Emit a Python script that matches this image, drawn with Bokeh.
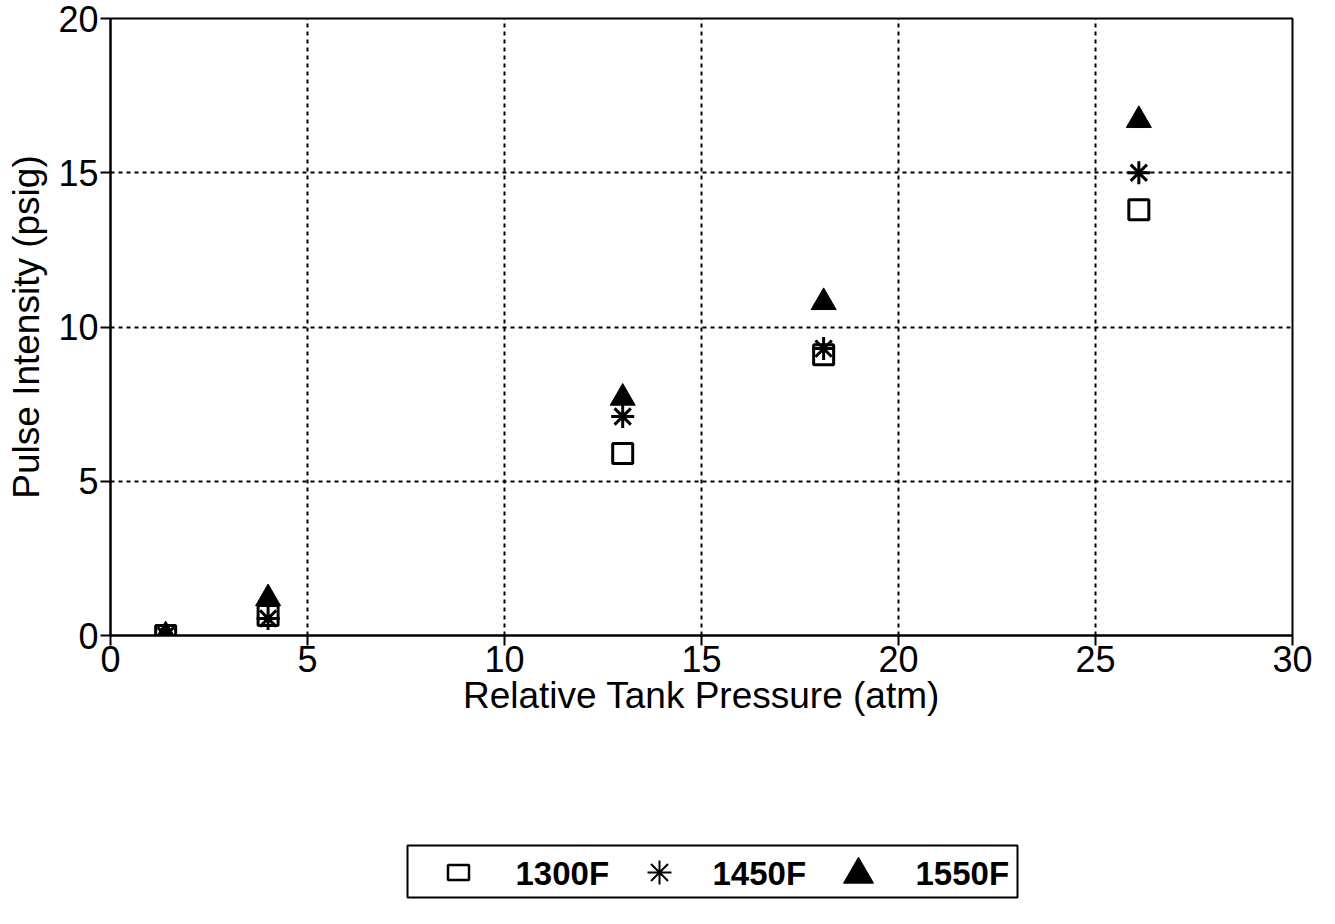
from bokeh.plotting import figure
from bokeh.models import FixedTicker, Range1d
from bokeh.layouts import column
from bokeh.core.properties import value
from bokeh.embed import file_html
from bokeh.resources import INLINE

pressure = [1.4, 4.0, 13.0, 18.1, 26.1]
s1300 = [0.0, 0.65, 5.9, 9.1, 13.8]
s1450 = [0.0, 0.55, 7.1, 9.3, 15.0]
s1550 = [0.0, 1.2, 7.7, 10.8, 16.7]
x_ticks = [0, 5, 10, 15, 20, 25, 30]
y_ticks = [0, 5, 10, 15, 20]
series_names = ["1300F", "1450F", "1550F"]

FONT = "Liberation Sans"
W = 1319
H_MAIN = 742
H_LEG = 166
BL, BR = 110, 27

p = figure(width=W, height=H_MAIN, output_backend="svg", toolbar_location=None,
           x_range=Range1d(0, 30), y_range=Range1d(0, 20),
           min_border_left=BL, min_border_right=BR, min_border_top=18, min_border_bottom=107)
p.outline_line_color = "black"
p.outline_line_width = 2
p.background_fill_color = "white"
p.border_fill_color = "white"

for ax in (p.xaxis[0], p.yaxis[0]):
    ax.axis_line_color = "black"
    ax.axis_line_width = 2
    ax.major_tick_line_width = 2
    ax.major_tick_line_color = "black"
    ax.major_tick_out = 10
    ax.major_tick_in = 0
    ax.minor_tick_line_color = None
    ax.major_label_text_font = FONT
    ax.major_label_text_font_size = "36px"
    ax.major_label_text_color = "black"
    ax.axis_label_text_font = FONT
    ax.axis_label_text_font_size = "37px"
    ax.axis_label_text_font_style = "normal"
    ax.axis_label_text_color = "black"

p.xaxis.ticker = FixedTicker(ticks=x_ticks)
p.yaxis.ticker = FixedTicker(ticks=y_ticks)
p.xaxis.axis_label = "Relative Tank Pressure (atm)"
p.yaxis.axis_label = "Pulse Intensity (psig)"
p.xaxis.major_label_standoff = 0
p.xaxis.axis_label_standoff = 0
p.yaxis.major_label_standoff = 2
p.yaxis.axis_label_standoff = 8

p.grid.grid_line_color = "black"
p.grid.grid_line_width = 2
p.grid.grid_line_dash = "4 4"

p.scatter(pressure, s1300, marker="square", size=20, fill_color="white",
          line_color="black", line_width=3)
p.scatter(pressure, s1450, marker="asterisk", size=23,
          line_color="black", line_width=3)
p.scatter(pressure, s1550, marker="triangle", size=25, fill_color="black",
          line_color="black", line_width=1)

# Legend panel below the chart, drawn in pixel coordinates of the whole figure
lf = figure(width=W, height=H_LEG, output_backend="svg", toolbar_location=None,
            x_range=Range1d(BL, W - BR), y_range=Range1d(H_MAIN + H_LEG, H_MAIN),
            min_border_left=BL, min_border_right=BR, min_border_top=0, min_border_bottom=0)
lf.axis.visible = False
lf.grid.visible = False
lf.outline_line_color = None
lf.background_fill_color = "white"
lf.border_fill_color = "white"

lf.rect(x=[712], y=[871], width=[610], height=[52], fill_color="white",
        line_color="black", line_width=2)
lf.rect(x=[458], y=[872], width=[21], height=[15], fill_color="white",
        line_color="black", line_width=2.5)
lf.scatter(x=[659], y=[872], marker="asterisk", size=24, line_color="black", line_width=2)
lf.scatter(x=[858], y=[874], marker="triangle", size=30, fill_color="black", line_color="black")
lf.text(x=[515, 712, 915], y=[873, 873, 873], text=series_names,
        text_font=value(FONT), text_font_size="33px", text_font_style="bold",
        text_color="black", text_align="left", text_baseline="middle")

layout = column(p, lf, spacing=0)
open("out.html", "w").write(file_html(layout, INLINE))
